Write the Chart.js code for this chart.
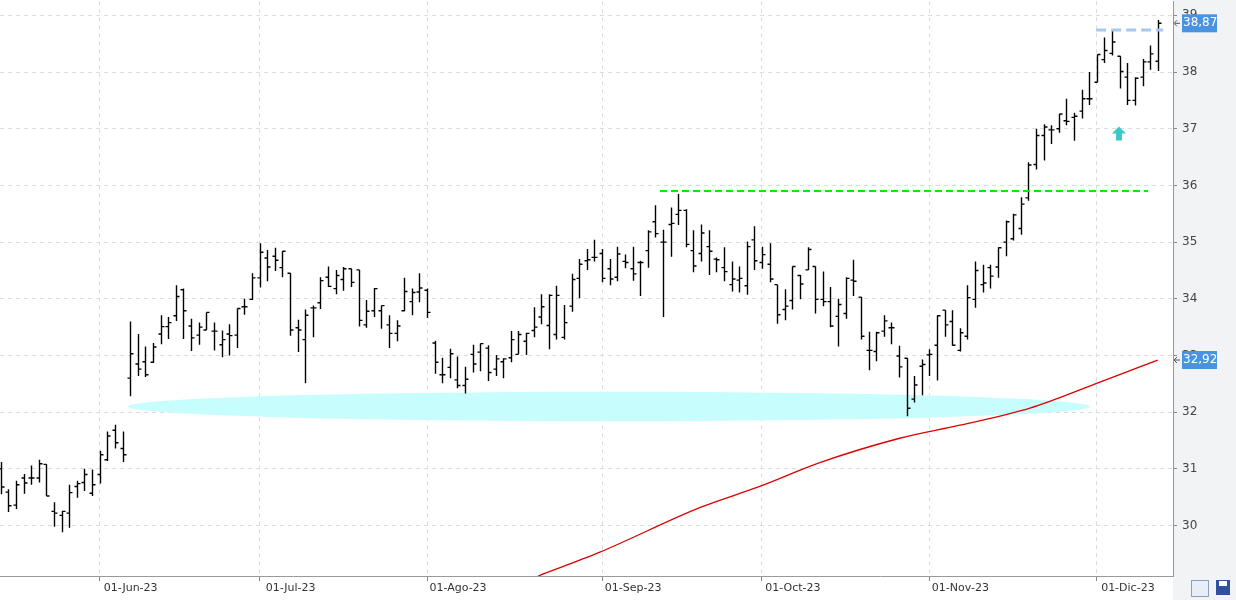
<!DOCTYPE html>
<html>
<head>
<meta charset="utf-8">
<script src="https://cdn.jsdelivr.net/npm/chart.js@4.4.1/dist/chart.umd.min.js"></script>
<style>
  html, body { margin: 0; padding: 0; background: #fff; overflow: hidden; }
  #wrap { width: 1236px; height: 600px; overflow: hidden; }
  #chartCanvas { margin-top: -11px; display: block; }
</style>
</head>
<body>
<div id="wrap"><canvas id="chartCanvas" width="1236" height="611"></canvas></div>
<script>
// daily bars, index 0 = first bar on the left
const opens = [31.0,30.59,30.36,30.84,30.84,30.84,31.08,30.25,30.18,30.22,30.69,30.76,30.57,30.9,31.16,31.68,31.36,
  32.6,32.85,32.89,32.88,33.38,33.51,33.7,34.16,33.52,33.36,33.45,33.43,33.19,33.38,33.36,33.86,33.99,34.37,34.72,34.75,34.55,
  34.45,33.49,33.28,33.84,33.93,34.38,34.18,34.34,34.53,34.51,33.54,33.79,33.79,33.54,33.39,33.79,33.95,34.12,34.15,33.22,
  32.66,32.79,32.57,32.47,33.02,33.06,33.13,32.76,32.89,32.96,33.02,33.25,33.44,33.68,33.53,33.37,33.32,33.87,34.36,34.67,34.73,
  34.8,34.53,34.38,34.66,34.53,34.64,34.85,35.36,35.0,35.31,35.49,35.56,34.85,34.8,34.92,34.7,34.55,34.25,34.33,34.23,35.04,
  34.64,34.61,34.25,33.81,33.97,34.41,34.51,34.57,33.99,33.95,33.69,33.74,34.33,34.03,33.09,33.07,33.43,33.49,32.99,32.95,
  32.23,32.81,33.01,33.18,33.8,33.6,33.09,33.34,33.99,34.25,34.55,34.56,35.0,35.06,35.24,35.78,36.37,36.88,36.98,37.0,37.14,
  37.2,37.31,37.53,37.82,38.22,38.33,38.28,37.91,37.5,37.91,38.18,38.19];
const highs = [31.12,30.64,30.79,30.91,31.06,31.16,31.08,30.41,30.26,30.72,30.79,31.0,30.99,31.32,31.66,31.78,31.66,
  33.6,33.38,33.16,33.22,33.71,33.68,34.24,34.18,33.65,33.58,33.76,33.58,33.44,33.55,33.83,34.0,34.45,34.98,34.86,34.9,34.84,
  34.45,33.63,33.81,33.88,34.38,34.57,34.51,34.56,34.53,34.51,33.98,34.19,33.88,33.71,33.62,34.37,34.18,34.45,34.18,33.26,
  32.96,33.12,32.98,32.8,33.19,33.21,33.18,33.01,32.95,33.43,33.43,33.4,33.85,34.08,34.08,34.23,33.89,34.44,34.7,34.88,35.04,
  34.88,34.7,34.92,34.78,34.92,34.67,35.21,35.65,35.22,35.61,35.85,35.58,35.21,35.31,35.21,34.73,34.91,34.66,34.57,35.01,35.28,
  34.92,34.98,34.25,34.17,34.57,34.42,34.91,34.57,34.48,34.21,34.0,34.38,34.69,34.03,33.42,33.42,33.71,33.58,33.17,32.95,
  32.64,32.93,33.11,33.71,33.8,33.8,33.48,34.24,34.66,34.6,34.6,34.91,35.38,35.5,35.79,36.41,37.0,37.08,37.06,37.26,37.53,
  37.28,37.69,38.0,38.31,38.61,38.73,38.28,38.16,37.91,38.23,38.47,38.92];
const lows = [30.55,30.24,30.29,30.56,30.72,30.76,30.52,29.98,29.88,29.96,30.49,30.61,30.52,30.74,31.14,31.36,31.12,
  32.28,32.64,32.62,32.87,33.2,33.29,33.61,33.29,33.08,33.19,33.45,33.09,32.97,33.0,33.13,33.72,33.98,34.2,34.31,34.49,34.38,
  33.35,33.06,32.51,33.32,33.82,34.21,34.08,34.14,34.21,33.51,33.49,33.68,33.47,33.13,33.25,33.78,33.71,33.94,33.66,32.68,
  32.51,32.6,32.42,32.33,32.7,32.72,32.55,32.64,32.6,32.88,33.02,33.01,33.32,33.55,33.11,33.28,33.28,33.77,34.01,34.51,34.66,
  34.29,34.24,34.31,34.54,34.32,34.05,34.55,35.08,33.68,34.74,35.3,34.91,34.47,34.66,34.42,34.47,34.31,34.13,34.11,34.07,34.51,
  34.53,34.29,33.56,33.62,33.81,33.99,34.51,33.74,33.87,33.5,33.16,33.65,34.05,33.28,32.74,32.9,33.33,33.2,32.61,31.93,
  32.17,32.3,32.64,32.56,33.33,33.17,33.07,33.28,33.84,34.11,34.18,34.37,34.75,35.03,35.13,35.73,36.28,36.44,36.73,36.93,37.06,
  36.79,37.18,37.42,37.82,38.16,38.29,37.71,37.42,37.41,37.75,38.04,38.02];
const closes = [30.68,30.35,30.72,30.75,30.84,31.09,30.52,30.22,30.25,30.58,30.74,30.9,30.72,31.25,31.58,31.46,31.25,
  33.03,32.76,32.66,33.15,33.51,33.58,34.04,33.79,33.31,33.5,33.76,33.43,33.28,33.35,33.83,33.86,34.37,34.82,34.56,34.68,34.84,
  33.45,33.45,33.71,33.84,34.32,34.22,34.41,34.53,34.29,33.62,33.78,34.18,33.88,33.39,33.52,34.13,34.11,34.19,33.76,32.88,
  32.66,33.03,32.47,32.58,32.85,33.21,32.7,32.94,32.94,33.28,33.37,33.39,33.5,33.86,34.06,34.06,33.58,34.34,34.61,34.69,34.73,
  34.36,34.35,34.79,34.64,34.44,34.64,35.18,35.15,35.0,35.33,35.56,34.96,34.58,35.16,34.84,34.69,34.48,34.35,34.36,34.92,34.67,
  34.78,34.35,33.72,33.87,34.57,34.26,34.87,33.99,33.95,33.52,33.9,34.36,34.31,33.34,33.09,33.4,33.61,33.49,32.8,32.07,
  32.48,32.84,33.02,33.7,33.54,33.18,33.4,34.02,34.5,34.28,34.4,34.9,35.36,35.48,35.67,36.36,36.88,37.03,36.98,37.26,37.13,
  37.22,37.53,37.53,38.31,38.38,38.53,38.01,37.5,37.89,38.18,38.32,38.86];

// moving average, read at a few bars
const maIdx = [70.6, 78.7, 91.9, 99.7, 107.6, 118.1, 126, 135.2, 144.4, 152];
const maVal = [29.11, 29.53, 30.32, 30.69, 31.11, 31.54, 31.77, 32.07, 32.53, 32.92];

const tickIdx = [13, 34, 56, 79, 100, 122, 144];
const tickLabels = ['01-Jun-23', '01-Jul-23', '01-Ago-23', '01-Sep-23', '01-Oct-23', '01-Nov-23', '01-Dic-23'];
const yTicks = [30, 31, 32, 33, 34, 35, 36, 37, 38, 39];

const resistance = { from: 86.6, to: 150.7, price: 35.9 };
const topLine = { from: 143.9, to: 152.7, price: 38.74 };
const zone = { from: 16.7, to: 143.1, price: 32.1, half: 0.26 };
const arrowAt = { idx: 146.9, price: 36.9 };
const lastPrice = '38,87', maLast = '32,92';

const overlay = {
  id: 'overlay',
  beforeDraw(chart) {
    const { ctx, chartArea: a } = chart;
    ctx.save();
    ctx.fillStyle = '#f2f3f5';
    ctx.fillRect(a.right, 0, chart.width - a.right, chart.height);
    ctx.restore();
  },
  beforeDatasetsDraw(chart) {
    const { ctx, scales: { x, y } } = chart;
    ctx.save();
    const x0 = x.getPixelForValue(zone.from), x1 = x.getPixelForValue(zone.to);
    const yc = y.getPixelForValue(zone.price);
    const ry = y.getPixelForValue(zone.price - zone.half) - yc;
    ctx.fillStyle = '#c8fdfd';
    ctx.beginPath();
    ctx.ellipse((x0 + x1) / 2, yc, (x1 - x0) / 2, ry, 0, 0, Math.PI * 2);
    ctx.fill();
    ctx.restore();
  },
  afterDatasetsDraw(chart) {
    const { ctx, scales: { x, y }, chartArea: a } = chart;
    ctx.save();
    // OHLC bars
    ctx.strokeStyle = '#000';
    ctx.lineWidth = 1.4;
    for (let i = 0; i < closes.length; i++) {
      const px = Math.round(x.getPixelForValue(i)) + 0.5;
      ctx.beginPath();
      ctx.moveTo(px, y.getPixelForValue(highs[i]));
      ctx.lineTo(px, y.getPixelForValue(lows[i]));
      const yo = y.getPixelForValue(opens[i]), yc = y.getPixelForValue(closes[i]);
      ctx.moveTo(px - 3, yo); ctx.lineTo(px, yo);
      ctx.moveTo(px, yc); ctx.lineTo(px + 3, yc);
      ctx.stroke();
    }
    // green resistance
    ctx.strokeStyle = '#00ee00';
    ctx.lineWidth = 2;
    ctx.setLineDash([7, 4]);
    let py = Math.round(y.getPixelForValue(resistance.price));
    ctx.beginPath();
    ctx.moveTo(x.getPixelForValue(resistance.from), py);
    ctx.lineTo(x.getPixelForValue(resistance.to), py);
    ctx.stroke();
    // light blue top
    ctx.strokeStyle = '#a8c8ee';
    ctx.lineWidth = 3;
    ctx.setLineDash([10, 5]);
    py = Math.round(y.getPixelForValue(topLine.price));
    ctx.beginPath();
    ctx.moveTo(x.getPixelForValue(topLine.from), py);
    ctx.lineTo(x.getPixelForValue(topLine.to), py);
    ctx.stroke();
    ctx.setLineDash([]);
    // arrow
    const ax = x.getPixelForValue(arrowAt.idx), ay = y.getPixelForValue(arrowAt.price);
    ctx.fillStyle = '#3cc8c8';
    ctx.beginPath();
    ctx.moveTo(ax, ay - 8); ctx.lineTo(ax + 7, ay - 1); ctx.lineTo(ax + 3, ay - 1);
    ctx.lineTo(ax + 3, ay + 6); ctx.lineTo(ax - 3, ay + 6); ctx.lineTo(ax - 3, ay - 1);
    ctx.lineTo(ax - 7, ay - 1); ctx.closePath();
    ctx.fill();
    // price boxes on the axis
    const boxes = [[closes[closes.length - 1], lastPrice], [maVal[maVal.length - 1], maLast]];
    ctx.font = '12px "DejaVu Sans", sans-serif';
    ctx.textBaseline = 'middle';
    for (const [v, t] of boxes) {
      const by = y.getPixelForValue(v);
      ctx.fillStyle = '#4a93e0';
      ctx.fillRect(a.right + 9, by - 9, 35, 18);
      ctx.fillStyle = '#fff';
      ctx.textAlign = 'left';
      ctx.fillText(t, a.right + 10, by);
      ctx.strokeStyle = '#555';
      ctx.lineWidth = 1;
      ctx.beginPath();
      ctx.moveTo(a.right + 7, by); ctx.lineTo(a.right + 2, by);
      ctx.moveTo(a.right + 4, by - 3); ctx.lineTo(a.right + 1, by); ctx.lineTo(a.right + 4, by + 3);
      ctx.stroke();
    }
    // little buttons bottom right
    const bb = a.bottom + 4;
    ctx.strokeStyle = '#8aa0c0';
    ctx.fillStyle = '#e8eef8';
    ctx.fillRect(1191, bb, 17, 16); ctx.strokeRect(1191.5, bb + 0.5, 17, 16);
    ctx.fillStyle = '#3050a0';
    ctx.fillRect(1216, bb, 14, 15);
    ctx.fillStyle = '#fff';
    ctx.fillRect(1219, bb + 1, 8, 5);
    ctx.restore();
  }
};

const ctx = document.getElementById('chartCanvas').getContext('2d');
new Chart(ctx, {
  type: 'line',
  data: {
    datasets: [{
      label: 'MA',
      data: maIdx.map((v, i) => ({ x: v, y: maVal[i] })),
      borderColor: '#e00000',
      borderWidth: 1.3,
      pointRadius: 0,
      cubicInterpolationMode: 'monotone'
    }]
  },
  options: {
    responsive: false,
    animation: false,
    layout: { padding: 0 },
    plugins: { legend: { display: false }, tooltip: { enabled: false } },
    scales: {
      x: {
        type: 'linear',
        min: -0.1,
        max: 154,
        afterBuildTicks: s => { s.ticks = tickIdx.map(v => ({ value: v })); },
        afterFit: s => { s.height = 24; },
        grid: { color: '#dcdcdc', tickLength: 5, tickColor: '#888' },
        border: { dash: [4, 4], color: '#999' },
        ticks: {
          maxRotation: 0,
          autoSkip: false,
          padding: 1,
          labelOffset: 31,
          color: '#333',
          font: { family: '"DejaVu Sans", sans-serif', size: 11 },
          callback: (v) => tickLabels[tickIdx.indexOf(v)]
        }
      },
      y: {
        position: 'right',
        min: 29.11,
        max: 39.25,
        afterBuildTicks: s => { s.ticks = yTicks.map(v => ({ value: v })); },
        afterFit: s => { s.width = 63; },
        grid: { color: '#dcdcdc', tickLength: 4, tickColor: '#888' },
        border: { dash: [4, 4], color: '#999' },
        ticks: {
          padding: 5,
          color: '#444',
          font: { family: '"DejaVu Sans", sans-serif', size: 12 }
        }
      }
    }
  },
  plugins: [overlay]
});
</script>
</body>
</html>
